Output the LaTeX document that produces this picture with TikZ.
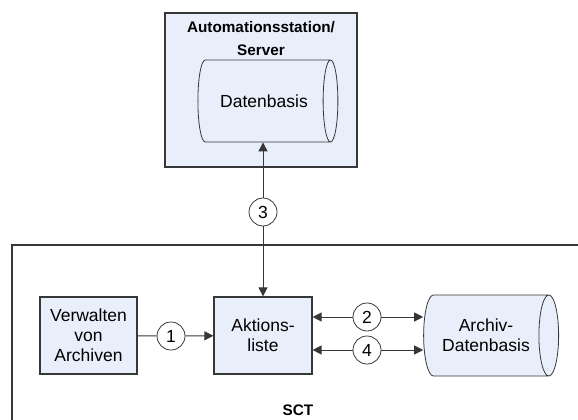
\documentclass[tikz,border=0pt]{standalone}
\usepackage{fontspec}
\setmainfont{Liberation Sans}
\usepackage{tikz}
\usetikzlibrary{arrows.meta,positioning,shapes.geometric}
\usepackage{xcolor}
\definecolor{boxfill}{RGB}{232,238,250}
\definecolor{linegray}{RGB}{55,55,55}

\begin{document}
\begin{tikzpicture}[x=1pt, y=-1pt,
  box/.style={rectangle, draw=linegray, line width=1.2pt, fill=boxfill, align=center, font=\fontsize{17.5}{20}\selectfont, inner sep=0pt},
  db/.style={cylinder, shape border rotate=0, aspect=1.15, draw=linegray, line width=0.8pt, fill=boxfill, align=center, font=\fontsize{17.5}{20}\selectfont, inner sep=0pt},
  num/.style={circle, draw=linegray, line width=0.8pt, fill=white, minimum size=28pt, inner sep=0pt, font=\fontsize{17.5}{20}\selectfont},
  arr/.style={-{Triangle[length=9pt,width=9pt]}, line width=1pt, linegray},
  lne/.style={line width=1pt, linegray},
  ttl/.style={font=\bfseries\fontsize{15.3}{23}\selectfont, align=center}
]
\useasboundingbox (0,0) rectangle (578,420);
% SCT frame, open to the right and bottom
\draw[linegray, line width=1.2pt] (578,245) -- (12,245) -- (12,420);
\node[ttl] (sct) at (298,410) {SCT};
% server
\node[box, minimum width=192pt, minimum height=154pt] (server) at (261,90) {};
\node[ttl, anchor=north] (servername) at (261,18) {Automationsstation/\\Server};
\node[db, minimum width=82pt, minimum height=140pt] (daten) at (264,101) {Datenbasis};
% SCT parts
\node[box, minimum width=97pt, minimum height=77pt] (verwalten) at (88.5,335.5) {Verwalten\\von\\Archiven};
\node[box, minimum width=98pt, minimum height=77pt] (aktion) at (263,335.5) {Aktions-\\liste};
\node[db, aspect=0.6, minimum width=81pt, minimum height=135pt] (archiv) at (486,335.5) {Archiv-\\Datenbasis};
\node[num] (n1) at (171,336) {1};
\node[num] (n2) at (367,317) {2};
\node[num] (n3) at (263,212) {3};
\node[num] (n4) at (367,350) {4};
\draw[lne] (verwalten) -- (n1);
\draw[arr] (n1) -- (aktion);
\draw[arr] (n3) -- (aktion.north);
\draw[arr] (n3) -- (n3 |- daten.south);
\draw[arr] (n2) -- (n2 -| aktion.east);
\draw[arr] (n2) -- (n2 -| archiv.west);
\draw[arr] (n4) -- (n4 -| aktion.east);
\draw[arr] (n4) -- (n4 -| archiv.west);
\end{tikzpicture}
\end{document}
